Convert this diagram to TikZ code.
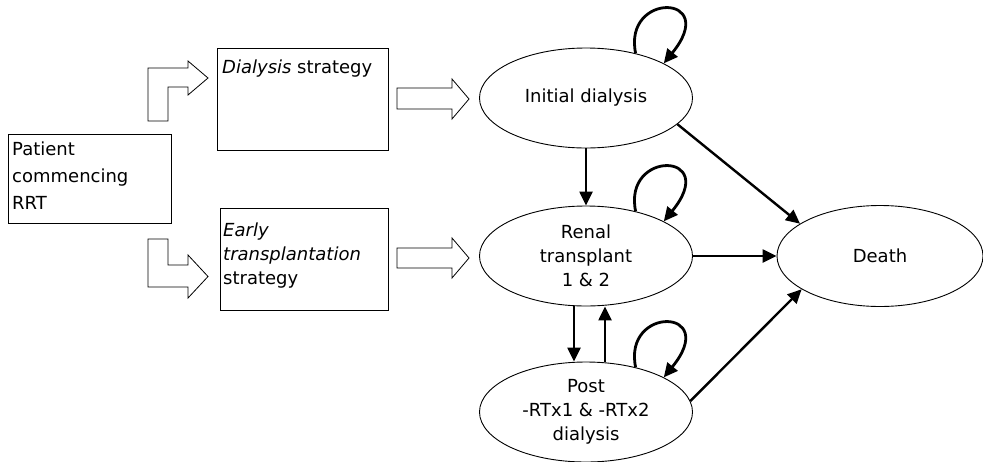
\documentclass[tikz,border=0pt]{standalone}
\usepackage{fontspec}
\setmainfont{DejaVu Sans}
\usetikzlibrary{shapes.geometric,arrows.meta}
\begin{document}
\begin{tikzpicture}[x=1pt,y=-1pt,
  every node/.style={font=\fontsize{18}{24}\selectfont},
  box/.style={draw,line width=0.9pt,inner sep=0pt},
  txt/.style={inner sep=0pt,align=left,anchor=north west},
  ell/.style={draw,ellipse,line width=0.9pt,inner sep=0pt,align=center},
  blk/.style={draw,line width=0.8pt,fill=white},
  arr/.style={line width=2.4pt,-{Triangle[length=14pt,width=13pt]}},
  selfloop/.style={line width=2.8pt,-{Triangle[length=14pt,width=13pt]}}]
\useasboundingbox (0,0) rectangle (983,461);
% boxes
\node[box,minimum width=163pt,minimum height=89pt] (pat) at (89.5,179) {};
\node[txt,font=\fontsize{18}{27}\selectfont] (pattxt) at (12,142) {Patient\\commencing\\RRT};
\node[box,minimum width=171pt,minimum height=102pt] (dia) at (302.5,99) {};
\node[txt] (diatxt) at (222,60) {\textit{Dialysis} strategy};
\node[box,minimum width=168pt,minimum height=102pt] (ear) at (304,259) {};
\node[txt] (eartxt) at (223,223) {\textit{Early}\\\textit{transplantation}\\strategy};
% ellipses
\node[ell,minimum width=213pt,minimum height=100pt] (ini) at (586,98) {Initial dialysis};
\node[ell,minimum width=213pt,minimum height=100pt] (ren) at (586,256) {Renal\\transplant\\1 \& 2};
\node[ell,minimum width=213pt,minimum height=100pt] (post) at (586,412) {Post\\-RTx1 \& -RTx2\\dialysis};
\node[ell,minimum width=206pt,minimum height=101pt] (death) at (880,256) {Death};
% block arrows
\draw[blk] (148,121) -- (148,68) -- (188,68) -- (188,61) -- (208,78) -- (188,95) -- (188,87) -- (168,87) -- (168,121) -- cycle;
\draw[blk] (148,239) -- (148,287) -- (188,287) -- (188,298) -- (208,276.5) -- (188,255) -- (188,265) -- (168,265) -- (168,239) -- cycle;
\draw[blk] (397,88) -- (452,88) -- (452,79) -- (469,99) -- (452,119) -- (452,109) -- (397,109) -- cycle;
\draw[blk] (397,248) -- (452,248) -- (452,238) -- (469,258) -- (452,278) -- (452,268) -- (397,268) -- cycle;
% transitions
\draw[arr] (ini.south) -- (ren.north);
\draw[arr] ([xshift=-12pt]ren.south) -- ([xshift=-12pt]post.north);
\draw[arr] ([xshift=19pt]post.north) -- ([xshift=19pt]ren.south);
\draw[arr] (ini.-16) -- (death.158);
\draw[arr] (ren.east) -- (death.west);
\draw[arr] (post.6.4) -- (death.203.5);
% self loops
\draw[selfloop] (ini.42) .. controls +(-13,-62) and +(57,-70) .. (ini.24);
\draw[selfloop] (ren.42) .. controls +(-13,-62) and +(57,-70) .. (ren.24);
\draw[selfloop] (post.42) .. controls +(-13,-62) and +(57,-70) .. (post.24);
\end{tikzpicture}
\end{document}
